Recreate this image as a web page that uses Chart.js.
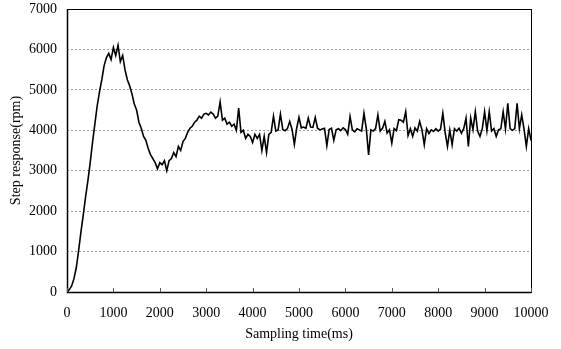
<!DOCTYPE html>
<html>
<head>
<meta charset="utf-8">
<title>Step response</title>
<script src="https://cdn.jsdelivr.net/npm/chart.js@4/dist/chart.umd.min.js"></script>
<style>
  html, body { margin: 0; padding: 0; background: #fff; }
  #wrap { width: 561px; height: 349px; position: relative; }
</style>
</head>
<body>
<div id="wrap"><canvas id="stepChart"></canvas></div>
<script>
// Sampling time (ms)
const sampleTimes = [
  0, 50, 100, 150, 200, 250, 300, 350, 400, 450,
  500, 550, 600, 650, 700, 750, 800, 850, 900, 950,
  1000, 1050, 1100, 1150, 1200, 1250, 1300, 1350, 1400, 1450,
  1500, 1550, 1600, 1650, 1700, 1750, 1800, 1850, 1900, 1950,
  2000, 2050, 2100, 2150, 2200, 2250, 2300, 2350, 2400, 2450,
  2500, 2550, 2600, 2650, 2700, 2750, 2800, 2850, 2900, 2950,
  3000, 3050, 3100, 3150, 3200, 3250, 3300, 3350, 3400, 3450,
  3500, 3550, 3600, 3650, 3700, 3750, 3800, 3850, 3900, 3950,
  4000, 4050, 4100, 4150, 4200, 4250, 4300, 4350, 4400, 4450,
  4500, 4550, 4600, 4650, 4700, 4750, 4800, 4850, 4900, 4950,
  5000, 5050, 5100, 5150, 5200, 5250, 5300, 5350, 5400, 5450,
  5500, 5550, 5600, 5650, 5700, 5750, 5800, 5850, 5900, 5950,
  6000, 6050, 6100, 6150, 6200, 6250, 6300, 6350, 6400, 6450,
  6500, 6550, 6600, 6650, 6700, 6750, 6800, 6850, 6900, 6950,
  7000, 7050, 7100, 7150, 7200, 7250, 7300, 7350, 7400, 7450,
  7500, 7550, 7600, 7650, 7700, 7750, 7800, 7850, 7900, 7950,
  8000, 8050, 8100, 8150, 8200, 8250, 8300, 8350, 8400, 8450,
  8500, 8550, 8600, 8650, 8700, 8750, 8800, 8850, 8900, 8950,
  9000, 9050, 9100, 9150, 9200, 9250, 9300, 9350, 9400, 9450,
  9500, 9550, 9600, 9650, 9700, 9750, 9800, 9850, 9900, 9950,
  10000
];

// Step response (rpm)
const stepResponse = [
  0, 60, 150, 330, 600, 1020, 1480, 1900, 2350, 2750,
  3200, 3700, 4150, 4600, 4950, 5250, 5600, 5800, 5900, 5750,
  6050, 5850, 6100, 5700, 5850, 5500, 5250, 5100, 4900, 4650,
  4500, 4200, 4050, 3850, 3750, 3550, 3400, 3300, 3200, 3050,
  3200, 3150, 3250, 3000, 3250, 3300, 3450, 3350, 3600, 3500,
  3720, 3800, 3950, 4050, 4100, 4200, 4250, 4350, 4300, 4400,
  4420, 4380, 4450, 4400, 4300, 4350, 4700, 4250, 4300, 4150,
  4200, 4100, 4150, 4000, 4550, 3950, 4000, 3800, 3900, 3850,
  3700, 3900, 3800, 3900, 3500, 3850, 3450, 3900, 3950, 4350,
  3980, 4010, 4400, 4020, 3990, 4040, 4220, 4020, 3650, 4050,
  4320, 4060, 4080, 4050, 4300, 4080, 4070, 4320, 4050, 4010,
  4030, 4050, 3620, 4020, 4050, 3750, 4010, 4040, 3990, 4060,
  4020, 3900, 4340, 4010, 3960, 4040, 4010, 3980, 4420, 4040,
  3390, 4010, 3980, 4040, 4380, 3980, 4050, 4220, 3930, 4010,
  3680, 4040, 3990, 4260, 4250, 4200, 4460, 3870, 4040, 3850,
  4060, 3980, 4220, 4010, 3640, 4040, 3920, 4010, 3970, 4040,
  3980, 4030, 4420, 3940, 3600, 4010, 3640, 4040, 3980, 4050,
  3930, 4040, 4300, 3600, 4300, 4010, 4460, 3980, 3850, 4040,
  4460, 3990, 4460, 3980, 4040, 3850, 4010, 4040, 4460, 4030,
  4670, 4040, 4000, 4040, 4670, 4040, 4380, 4030, 3600, 4040,
  3750
];

// Axis ticks
const xTicks = [0, 1000, 2000, 3000, 4000, 5000, 6000, 7000, 8000, 9000, 10000];
const yTicks = [0, 1000, 2000, 3000, 4000, 5000, 6000, 7000];

const serif = 'Liberation Serif, Times New Roman, serif';

// Frame round the plot area plus short inward tick marks on the x axis
const frameAndTicks = {
  id: 'frameAndTicks',
  afterDatasetsDraw(chart) {
    const { ctx, chartArea: a, scales: { x } } = chart;
    ctx.save();
    ctx.strokeStyle = '#000';
    ctx.lineWidth = 1;
    ctx.strokeRect(a.left + 0.5, a.top + 0.5, a.right - a.left, a.bottom - a.top);
    ctx.lineWidth = 1.5;
    ctx.beginPath();
    ctx.moveTo(a.left + 0.5, a.top);
    ctx.lineTo(a.left + 0.5, a.bottom + 0.5);
    ctx.lineTo(a.right, a.bottom + 0.5);
    ctx.stroke();
    ctx.lineWidth = 1;
    ctx.strokeStyle = '#555';
    xTicks.forEach((t) => {
      const px = Math.round(x.getPixelForValue(t)) + 0.5;
      ctx.beginPath();
      ctx.moveTo(px, a.bottom);
      ctx.lineTo(px, a.bottom - 4);
      ctx.stroke();
    });
    ctx.restore();
  }
};

const ctx = document.getElementById('stepChart').getContext('2d');
const chart = new Chart(ctx, {
  type: 'line',
  data: {
    datasets: [{
      label: 'Step response',
      data: sampleTimes.map((t, i) => ({ x: t, y: stepResponse[i] })),
      borderColor: '#000',
      borderWidth: 1.6,
      pointRadius: 0,
      tension: 0,
      fill: false
    }]
  },
  options: {
    responsive: true,
    maintainAspectRatio: false,
    animation: false,
    layout: { padding: { top: 9, right: 30, bottom: 0, left: 0 } },
    plugins: {
      legend: { display: false },
      tooltip: { enabled: false }
    },
    scales: {
      x: {
        type: 'linear',
        min: 0,
        max: 10000,
        afterBuildTicks: (scale) => { scale.ticks = xTicks.map((v) => ({ value: v })); },
        afterFit: (scale) => {
          scale.height = 57;
          scale.paddingLeft = 0;
          scale.paddingRight = 0;
        },
        grid: { display: false, drawTicks: false },
        border: { display: false },
        ticks: {
          padding: 13,
          color: '#000',
          maxRotation: 0,
          callback: (value) => String(value),
          font: { family: serif, size: 14 }
        },
        title: {
          display: true,
          text: 'Sampling time(ms)',
          color: '#000',
          padding: { top: 0, bottom: 6 },
          font: { family: serif, size: 14 }
        }
      },
      y: {
        min: 0,
        max: 7000,
        afterBuildTicks: (scale) => { scale.ticks = yTicks.map((v) => ({ value: v })); },
        afterFit: (scale) => {
          scale.width = 67;
          scale.paddingTop = 0;
          scale.paddingBottom = 0;
        },
        grid: {
          color: '#9a9a9a',
          lineWidth: 1,
          drawTicks: false
        },
        border: { display: false, dash: [2, 2] },
        ticks: {
          padding: 10,
          color: '#000',
          callback: (value) => String(value),
          font: { family: serif, size: 14 }
        },
        title: {
          display: true,
          text: 'Step response(rpm)',
          color: '#000',
          padding: { top: 8, bottom: 0 },
          font: { family: serif, size: 14 }
        }
      }
    }
  },
  plugins: [frameAndTicks]
});
</script>
</body>
</html>
